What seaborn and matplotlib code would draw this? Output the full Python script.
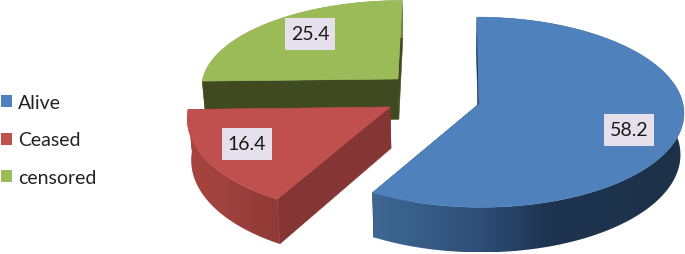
import numpy as np
import matplotlib
matplotlib.use("Agg")
import matplotlib.pyplot as plt
from matplotlib.colors import LinearSegmentedColormap
from matplotlib.patches import Patch, Polygon, Rectangle
import seaborn as sns

categories = ["Alive", "Ceased", "censored"]
values = [58.2, 16.4, 25.4]
value_labels = ["58.2", "16.4", "25.4"]

top_colors = ["#4f81bd", "#c0504d", "#9bbb59"]
cut_colors = ["#1d3350", "#853533", "#3f4a20"]
rim_ramps = [["#3e6793", "#2f5078", "#1e3450", "#1d3248"],
             ["#a8453f", "#a0423e", "#953c39", "#8f3a36"],
             ["#76903f", "#76903f", "#76903f", "#76903f"]]
rim_stops = [[0.0, 0.33, 0.56, 1.0], [0.0, 0.4, 0.75, 1.0], [0.0, 0.5, 0.8, 1.0]]

# slice layout: explode offset and radius, in pie radius units
offset_x = [0.1276, -0.308, -0.276]
offset_y = [-0.0533, -0.085, 0.218]
radius_x = [1.0, 0.985, 0.98]
radius_y = [1.0, 1.03, 0.94]
label_xy = [(629, 131), (247, 145), (310, 34.5)]

# camera
x0, y0, fx, fy, k = 453, 100, 203, 93.5, 0.0858
depth, shrink = 41, 0.985


def project(x, y):
    s = 1 / (1 + k * y)
    return x0 + fx * x * s, y0 - fy * y * s, s


def bottom(sx, sy, s):
    return x0 + (sx - x0) * shrink, sy + depth * s


def cut_face(ax, a, b, color):
    pts = [a[:2], b[:2], bottom(*b), bottom(*a)]
    ax.add_patch(Polygon(pts, closed=True, facecolor=color, edgecolor=color, lw=0.4))


def rim_wall(ax, i, rim):
    """outer wall, a horizontal gradient clipped to the wall outline"""
    pts = [p[:2] for p in rim] + [bottom(*p) for p in rim[::-1]]
    poly = Polygon(pts, closed=True, facecolor="none", edgecolor="none", transform=ax.transData)
    ax.add_patch(poly)
    xs = [p[0] for p in pts]
    ys = [p[1] for p in pts]
    cmap = LinearSegmentedColormap.from_list("rim", list(zip(rim_stops[i], rim_ramps[i])))
    im = ax.imshow(np.linspace(0, 1, 256)[None, :], cmap=cmap, aspect="auto", zorder=1,
                   extent=(min(xs), max(xs), max(ys), min(ys)), interpolation="bilinear")
    im.set_clip_path(poly)


def draw_slice(ax, i, start, end):
    theta = np.radians(np.linspace(start, end, 120))
    rx = offset_x[i] + radius_x[i] * np.sin(theta)
    ry = offset_y[i] + radius_y[i] * np.cos(theta)
    rim = [project(a, b) for a, b in zip(rx, ry)]
    center = project(offset_x[i], offset_y[i])
    # the end cut faces away from the viewer, the start cut towards it
    cut_face(ax, center, rim[-1], cut_colors[i])
    rim_wall(ax, i, rim)
    cut_face(ax, center, rim[0], cut_colors[i])
    pts = [center[:2]] + [p[:2] for p in rim]
    ax.add_patch(Polygon(pts, closed=True, facecolor=top_colors[i], edgecolor=top_colors[i], lw=0.4))


sns.set_theme(style="white")
plt.rcParams["font.family"] = ["Lato", "DejaVu Sans"]

fig = plt.figure(figsize=(6.85, 2.55), dpi=100)
ax = fig.add_axes([0, 0, 1, 1])

edges = np.concatenate([[0], np.cumsum(values)]) / sum(values) * 360
# back to front
for i in [2, 1, 0]:
    draw_slice(ax, i, edges[i], edges[i + 1])

ax.set_xlim(0, 685)
ax.set_ylim(255, 0)
ax.axis("off")

for (lx, ly), txt in zip(label_xy, value_labels):
    ax.add_patch(Rectangle((lx - 25, ly - 16), 50, 32, facecolor="#e6e0ec", edgecolor="none", zorder=5))
    ax.text(lx, ly, txt, ha="center", va="center", fontsize=14, color="#1a1a1a", zorder=6)

handles = [Patch(facecolor=c, edgecolor="none", label=n) for c, n in zip(top_colors, categories)]
ax.legend(handles=handles, loc="center left", bbox_to_anchor=(1, 141), bbox_transform=ax.transData,
          frameon=False, fontsize=14, labelcolor="#222222", handlelength=0.58, handleheight=0.58,
          handletextpad=0.28, labelspacing=1.06, borderpad=0, borderaxespad=0)

fig.savefig("out.png", dpi=100)
plt.close(fig)
